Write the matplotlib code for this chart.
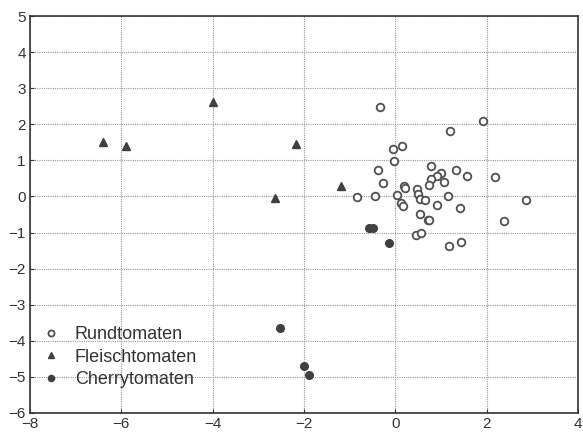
import matplotlib
matplotlib.use("Agg")
import matplotlib.pyplot as plt

plt.rcParams['font.family'] = ['Liberation Sans', 'DejaVu Sans']

rund_x = [-0.33, 1.91, 1.19, -0.06, 0.15, -0.02, -0.39, 0.79, 1.32, 1.56, 2.19, 1.01, 0.91, 0.79,
          1.07, 0.74, -0.26, 0.20, 0.22, 0.48, -0.83, -0.44, 0.03, 0.50, 0.54, 0.64, 1.16, 2.86,
          0.12, 0.17, 0.92, 1.42, 0.54, 0.71, 0.74, 2.39, 0.45, 0.57, 1.18, 1.43]
rund_y = [2.49, 2.09, 1.80, 1.32, 1.39, 0.97, 0.73, 0.84, 0.74, 0.56, 0.53, 0.64, 0.58, 0.47,
          0.40, 0.31, 0.38, 0.28, 0.24, 0.21, -0.01, 0.01, 0.03, 0.08, -0.08, -0.09, 0.01, -0.11,
          -0.19, -0.27, -0.23, -0.33, -0.49, -0.66, -0.66, -0.67, -1.06, -1.02, -1.36, -1.27]

fleisch_x = [-6.40, -5.90, -4.00, -2.18, -2.64, -1.18]
fleisch_y = [1.52, 1.41, 2.62, 1.46, -0.03, 0.28]

cherry_x = [-2.53, -2.01, -1.88, -0.57, -0.48, -0.13]
cherry_y = [-3.65, -4.69, -4.95, -0.88, -0.88, -1.28]

labels = ["Rundtomaten", "Fleischtomaten", "Cherrytomaten"]
x_ticks = [-8, -6, -4, -2, 0, 2, 4]
y_ticks = [-6, -5, -4, -3, -2, -1, 0, 1, 2, 3, 4, 5]

fig = plt.figure(figsize=(5.83, 4.32), dpi=100)
ax = fig.add_axes([30/583, 19/432, 548/583, 397/432])

dark = '#404040'
ax.plot(rund_x, rund_y, 'o', ms=5.5, mfc='white', mec='#505050', mew=1.3, ls='none', label=labels[0])
ax.plot(fleisch_x, fleisch_y, '^', ms=6, mfc=dark, mec=dark, ls='none', label=labels[1])
ax.plot(cherry_x, cherry_y, 'o', ms=5.5, mfc=dark, mec=dark, ls='none', label=labels[2])

ax.set_xlim(-8, 4)
ax.set_ylim(-6, 5)
ax.set_xticks(x_ticks)
ax.set_yticks(y_ticks)
ax.grid(True, ls=(0, (1, 1)), color='#999999', lw=0.8)
ax.tick_params(direction='in', length=3, labelsize=11, colors='#333333', pad=3)
for s in ax.spines.values():
    s.set_color('#333333')
    s.set_linewidth(1.2)

leg = ax.legend(loc='lower left', bbox_to_anchor=(-0.012, 0.022), frameon=False, fontsize=13,
                handletextpad=0.75, labelspacing=0.3, markerscale=0.8, handlelength=1.2)
for t in leg.get_texts():
    t.set_color('#333333')

fig.savefig('out.png', dpi=100)
